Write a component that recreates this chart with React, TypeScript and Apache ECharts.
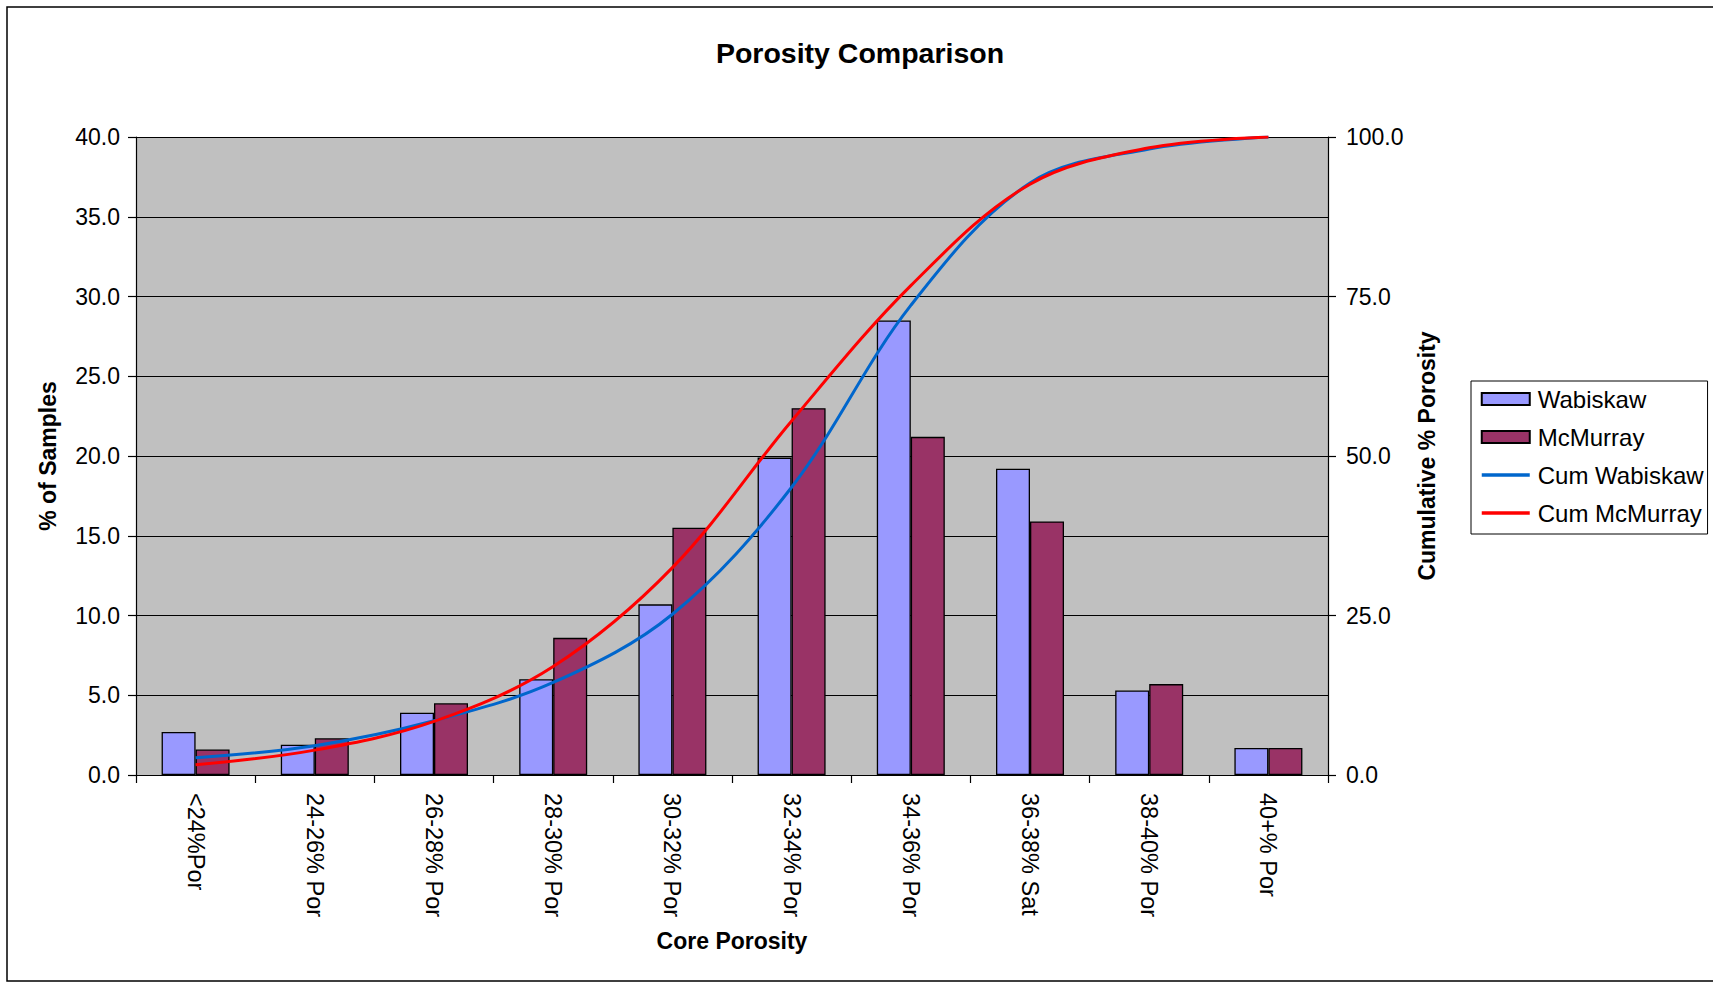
import React, { useEffect, useRef } from "react";
import * as echarts from "echarts";

const categories = [
  "<24%Por",
  "24-26% Por",
  "26-28% Por",
  "28-30% Por",
  "30-32% Por",
  "32-34% Por",
  "34-36% Por",
  "36-38% Sat",
  "38-40% Por",
  "40+% Por",
];
const wabiskaw = [2.7, 1.9, 3.9, 6.0, 10.7, 19.9, 28.5, 19.2, 5.3, 1.7];
const mcmurray = [1.6, 2.3, 4.5, 8.6, 15.5, 23.0, 21.2, 15.9, 5.7, 1.7];
const cumWabiskaw = [2.7, 4.6, 8.5, 14.5, 25.2, 45.1, 73.6, 92.8, 98.1, 100.0];
const cumMcMurray = [1.6, 3.9, 8.4, 17.0, 32.5, 55.5, 76.7, 92.6, 98.3, 100.0];
const leftTicks = { min: 0, max: 40, interval: 5 };
const rightTicks = { min: 0, max: 100, interval: 25 };

const FONT = "'Liberation Sans', Arial, sans-serif";

export default function App() {
  const ref = useRef<HTMLDivElement>(null);
  useEffect(() => {
    if (!ref.current) return;
    const chart = echarts.init(ref.current, null, { renderer: "svg" });
    chart.setOption({
      animation: false,
      backgroundColor: "#ffffff",
      textStyle: { fontFamily: FONT, color: "#000" },
      graphic: [
        {
          type: "rect",
          z: -10,
          silent: true,
          shape: { x: 7, y: 7, width: 1720, height: 974 },
          style: { fill: "#ffffff", stroke: "#000000", lineWidth: 1.5 },
        },
      ],
      title: {
        text: "Porosity Comparison",
        left: 860,
        textAlign: "center",
        top: 38,
        padding: 0,
        textStyle: { fontFamily: FONT, fontSize: 28.5, fontWeight: "bold", color: "#000" },
      },
      legend: {
        orient: "vertical",
        left: 1471,
        top: 381,
        padding: [6, 4, 9, 9],
        itemGap: 14,
        itemWidth: 48,
        itemHeight: 12,
        backgroundColor: "#ffffff",
        borderColor: "#000000",
        borderWidth: 1,
        textStyle: { fontFamily: FONT, fontSize: 24, color: "#000", lineHeight: 24, padding: [0, 0, 0, 3] },
        data: [
          { name: "Wabiskaw", icon: "rect" },
          { name: "McMurray", icon: "rect" },
          { name: "Cum Wabiskaw", itemStyle: { opacity: 0 }, lineStyle: { width: 3.5, color: "#0066CC" } },
          { name: "Cum McMurray", itemStyle: { opacity: 0 }, lineStyle: { width: 3.5, color: "#FF0000" } },
        ],
      },
      grid: {
        left: 136,
        right: 385,
        top: 137,
        bottom: 209,
        show: true,
        backgroundColor: "#C0C0C0",
        borderWidth: 0,
      },
      xAxis: {
        type: "category",
        data: categories,
        boundaryGap: true,
        name: "Core Porosity",
        nameLocation: "middle",
        nameGap: 154,
        nameTextStyle: { fontFamily: FONT, fontSize: 23, fontWeight: "bold", color: "#000" },
        axisLine: { show: true, lineStyle: { color: "#000", width: 1.2 } },
        axisTick: { show: true, length: 8, alignWithLabel: false, lineStyle: { color: "#000", width: 1.2 } },
        axisLabel: {
          rotate: -90,
          margin: 18,
          interval: 0,
          fontFamily: FONT,
          fontSize: 23.5,
          color: "#000",
        },
        splitLine: { show: false },
      },
      yAxis: [
        {
          type: "value",
          min: leftTicks.min,
          max: leftTicks.max,
          interval: leftTicks.interval,
          name: "% of Samples",
          nameLocation: "middle",
          nameGap: 77,
          nameTextStyle: { fontFamily: FONT, fontSize: 23, fontWeight: "bold", color: "#000" },
          axisLine: { show: true, lineStyle: { color: "#000", width: 1.2 } },
          axisTick: { show: true, length: 8, lineStyle: { color: "#000", width: 1.2 } },
          axisLabel: {
            margin: 16,
            fontFamily: FONT,
            fontSize: 23,
            color: "#000",
            formatter: (v: number) => v.toFixed(1),
          },
          splitLine: { show: true, lineStyle: { color: "#000", width: 1 } },
        },
        {
          type: "value",
          position: "right",
          min: rightTicks.min,
          max: rightTicks.max,
          interval: rightTicks.interval,
          name: "Cumulative % Porosity",
          nameLocation: "middle",
          nameGap: 87,
          nameTextStyle: { fontFamily: FONT, fontSize: 23, fontWeight: "bold", color: "#000" },
          axisLine: { show: true, lineStyle: { color: "#000", width: 1.2 } },
          axisTick: { show: true, length: 8, lineStyle: { color: "#000", width: 1.2 } },
          axisLabel: {
            margin: 18,
            fontFamily: FONT,
            fontSize: 23,
            color: "#000",
            formatter: (v: number) => v.toFixed(1),
          },
          splitLine: { show: false },
        },
      ],
      series: [
        {
          name: "Wabiskaw",
          type: "bar",
          yAxisIndex: 0,
          data: wabiskaw,
          barWidth: 34,
          barGap: "0%",
          itemStyle: { color: "#9999FF", borderColor: "#000", borderWidth: 1.3 },
        },
        {
          name: "McMurray",
          type: "bar",
          yAxisIndex: 0,
          data: mcmurray,
          barWidth: 34,
          barGap: "0%",
          itemStyle: { color: "#993366", borderColor: "#000", borderWidth: 1.3 },
        },
        {
          name: "Cum Wabiskaw",
          type: "line",
          yAxisIndex: 1,
          data: cumWabiskaw,
          smooth: 0.35,
          symbol: "none",
          z: 5,
          itemStyle: { color: "#0066CC" },
          lineStyle: { color: "#0066CC", width: 3 },
        },
        {
          name: "Cum McMurray",
          type: "line",
          yAxisIndex: 1,
          data: cumMcMurray,
          smooth: 0.35,
          symbol: "none",
          z: 5,
          itemStyle: { color: "#FF0000" },
          lineStyle: { color: "#FF0000", width: 3 },
        },
      ],
    });
    return () => chart.dispose();
  }, []);
  return (
    <div
      ref={ref}
      style={{ position: "absolute", left: 0, top: 0, width: 1713, height: 984 }}
    />
  );
}
